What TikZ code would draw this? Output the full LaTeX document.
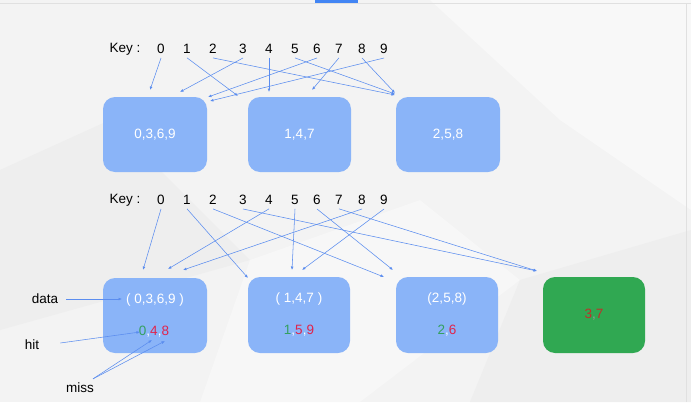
\documentclass[tikz,border=0pt]{standalone}
\usepackage{fontspec}
\setmainfont{Liberation Sans}
\usetikzlibrary{arrows.meta,calc}
\definecolor{bgc}{HTML}{F3F3F3}
\definecolor{boxblue}{HTML}{8AB4F8}
\definecolor{boxgreen}{HTML}{30A852}
\definecolor{arrblue}{HTML}{5B8DEF}
\definecolor{hitg}{HTML}{34A060}
\definecolor{missr}{HTML}{E0244C}
\definecolor{darkred}{HTML}{C0302A}
\definecolor{topbar}{HTML}{4285F4}
\begin{document}
\begin{tikzpicture}[x=1pt,y=-1pt,
  key/.style={font=\fontsize{13.5}{15}\selectfont, inner sep=1pt, text=black},
  bbox/.style={rounded corners=12pt, fill=boxblue, draw=none, minimum width=104pt, minimum height=75pt},
  gbox/.style={rounded corners=12pt, fill=boxgreen, draw=none, minimum width=102pt, minimum height=76pt},
  btext/.style={font=\fontsize{13.5}{15}\selectfont, text=white, inner sep=1pt},
  arr/.style={draw=arrblue, line width=0.55pt, -{Latex[length=3.5pt,width=2.8pt]}},
  lbl/.style={font=\fontsize{13.5}{15}\selectfont, inner sep=1pt}
]
\useasboundingbox (0,0) rectangle (691,402);
% background
\fill[bgc] (0,0) rectangle (691,402);
\fill[white!45!bgc] (430,0) -- (691,0) -- (691,210) -- (560,120) -- cycle;
\fill[black!2!bgc] (0,170) -- (110,120) -- (250,260) -- (0,330) -- cycle;
\fill[white!35!bgc] (250,260) -- (420,200) -- (520,280) -- (360,402) -- (200,402) -- cycle;
\fill[black!2!bgc] (520,280) -- (691,230) -- (691,402) -- (470,402) -- cycle;
\draw[black!12, line width=0.8pt] (0,3) -- (691,3);
\draw[black!12, line width=0.8pt] (686,3) -- (686,402);
\fill[topbar] (315,0) rectangle (358,3);

% top keys
\node[key] (tk) at (125,49) {Key :};
\foreach \d/\x in {0/161,1/187,2/213,3/243,4/269,5/295,6/317,7/339,8/362,9/384}
  \node[key] (k\d) at (\x,49) {\d};

% top boxes
\node[bbox] (A) at (155,134.5) {};
\node[btext] at (A.center) {0,3,6,9};
\node[bbox, minimum width=103pt] (B) at (299.5,134.5) {};
\node[btext] at (B.center) {1,4,7};
\node[bbox] (C) at (448,134.5) {};
\node[btext] at (C.center) {2,5,8};

% top targets
\coordinate (t0) at (150,90);
\coordinate (t1) at (238,96);
\coordinate (t2) at (395,95);
\coordinate (t3) at (180,92);
\coordinate (t4) at (269,92);
\coordinate (t5) at (395,94);
\coordinate (t6) at (208,97);
\coordinate (t7) at (312,90);
\coordinate (t8) at (395,93);
\coordinate (t9) at (210,101);
\foreach \d in {0,...,9}
  \draw[arr] ($(k\d.south)+(0,3)$) -- (t\d);

% bottom keys
\node[key] (bk) at (125,200) {Key :};
\foreach \d/\x in {0/161,1/187,2/213,3/243,4/269,5/295,6/317,7/339,8/362,9/384}
  \node[key] (m\d) at (\x,200) {\d};

% bottom boxes
\node[bbox] (D) at (155,315.5) {};
\node[bbox, minimum width=102pt, minimum height=76pt] (E) at (299,315) {};
\node[bbox, minimum width=102pt, minimum height=76pt] (F) at (447,315) {};
\node[gbox] (G) at (594,315) {};

\node[btext] (d1) at (155,300) {( 0,3,6,9 )};
\node[btext] (h1) at (154,332) {\textcolor{hitg}{0}\textcolor{white}{,}\textcolor{missr}{4}\textcolor{white}{,}\textcolor{missr}{8}};
\node[btext] (d2) at (299,299) {( 1,4,7 )};
\node[btext] (h2) at (299,331) {\textcolor{hitg}{1}\textcolor{white}{,}\textcolor{missr}{5}\textcolor{white}{,}\textcolor{missr}{9}};
\node[btext] (d3) at (447,299) {(2,5,8)};
\node[btext] (h3) at (447,331) {\textcolor{hitg}{2}\textcolor{white}{,}\textcolor{missr}{6}};
\node[btext, text=darkred] (g1) at (594,315) {3\textcolor{black!40}{,}7};

% bottom targets
\coordinate (u0) at (143,270);
\coordinate (u1) at (248,278);
\coordinate (u2) at (384,277);
\coordinate (u3) at (537,271);
\coordinate (u4) at (168,269);
\coordinate (u5) at (292,270);
\coordinate (u6) at (393,270);
\coordinate (u7) at (537,271);
\coordinate (u8) at (183,270);
\coordinate (u9) at (302,270);
\foreach \d in {0,...,9}
  \draw[arr] ($(m\d.south)+(0,3)$) -- (u\d);

% legend labels
\node[lbl] (data) at (45,299) {data};
\node[lbl] (hit) at (32,345) {hit};
\node[lbl] (miss) at (80,388) {miss};
\coordinate (dataend) at (122,299);
\coordinate (hitend) at (140,332);
\coordinate (miss1) at (152,340);
\coordinate (miss2) at (165,341);
\draw[arr] ($(data.east)+(7,0)$) -- (dataend);
\draw[arr] ($(hit.east)+(20,-2)$) -- (hitend);
\draw[arr] ($(miss.north)+(13,-3)$) -- (miss1);
\draw[arr] ($(miss.north)+(13,-3)$) -- (miss2);
\end{tikzpicture}
\end{document}
